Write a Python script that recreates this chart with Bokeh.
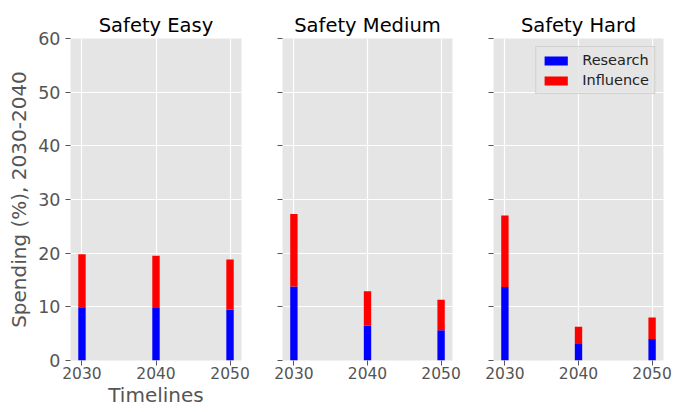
from bokeh.plotting import figure
from bokeh.layouts import row
from bokeh.models import FixedTicker, Range1d, Legend
from bokeh.embed import file_html
from bokeh.resources import INLINE

# data
years = [2030, 2040, 2050]
scenarios = ["Safety Easy", "Safety Medium", "Safety Hard"]
research = {
    "Safety Easy": [9.9, 9.8, 9.45],
    "Safety Medium": [13.8, 6.5, 5.65],
    "Safety Hard": [13.7, 3.2, 4.0],
}
influence = {
    "Safety Easy": [9.9, 9.7, 9.35],
    "Safety Medium": [13.5, 6.4, 5.65],
    "Safety Hard": [13.3, 3.1, 4.0],
}
y_ticks = [0, 10, 20, 30, 40, 50, 60]

FONT = "DejaVu Sans"
BG = "#E5E5E5"
TXT = "#555555"


def make_panel(name, left, right, frame_w, first=False, legend=False):
    p = figure(
        title=name,
        frame_width=frame_w, frame_height=322,
        min_border_left=left, min_border_right=right,
        min_border_top=38, min_border_bottom=52,
        x_range=Range1d(2028.45, 2051.55), y_range=Range1d(0, 60),
        output_backend="svg", toolbar_location=None,
        background_fill_color=BG, border_fill_color="white",
    )
    p.outline_line_color = None
    p.title.align = "center"
    p.title.text_font = FONT
    p.title.text_font_size = "19.5px"
    p.title.text_font_style = "normal"
    p.title.text_color = "black"
    p.title.standoff = 4

    p.grid.grid_line_color = "white"
    p.grid.grid_line_width = 1.2

    p.xaxis.ticker = FixedTicker(ticks=years)
    p.yaxis.ticker = FixedTicker(ticks=y_ticks)
    for ax in (p.xaxis, p.yaxis):
        ax.axis_line_color = None
        ax.major_tick_line_color = TXT
        ax.major_tick_out = 5
        ax.major_tick_in = 0
        ax.minor_tick_line_color = None
        ax.major_label_text_font = FONT
        ax.major_label_text_color = TXT
        ax.axis_label_text_font = FONT
        ax.axis_label_text_color = TXT
        ax.axis_label_text_font_size = "20px"
        ax.axis_label_text_font_style = "normal"
    p.xaxis.major_label_text_font_size = "15.5px"
    p.xaxis.major_label_standoff = 1
    p.yaxis.major_label_text_font_size = "17.5px"
    p.yaxis.major_label_standoff = 5

    if first:
        p.yaxis.axis_label = "Spending (%), 2030-2040"
        p.yaxis.axis_label_standoff = 4
        p.xaxis.axis_label = "Timelines"
        p.xaxis.axis_label_standoff = 1
    else:
        p.yaxis.major_label_overrides = {t: "" for t in y_ticks}

    r = research[name]
    inf = influence[name]
    top = [a + b for a, b in zip(r, inf)]
    rb = p.vbar(x=years, width=1, bottom=0, top=r, fill_color="blue", line_color=None)
    ib = p.vbar(x=years, width=1, bottom=r, top=top, fill_color="red", line_color=None)

    if legend:
        leg = Legend(items=[("Research", [rb]), ("Influence", [ib])], location="top_right")
        leg.margin = 8
        leg.padding = 5
        leg.spacing = 4
        leg.glyph_width = 29
        leg.glyph_height = 11
        leg.label_height = 16
        leg.label_standoff = 12
        leg.label_text_font = FONT
        leg.label_text_font_size = "14.5px"
        leg.label_text_color = "#222222"
        leg.background_fill_color = BG
        leg.background_fill_alpha = 0.8
        leg.border_line_color = "#CCCCCC"
        leg.border_line_alpha = 0.8
        p.add_layout(leg)
    return p


p1 = make_panel("Safety Easy", 70, 10, 171, first=True)
p2 = make_panel("Safety Medium", 31, 10, 170)
p3 = make_panel("Safety Hard", 31, 15, 170, legend=True)

layout = row(p1, p2, p3)
open("out.html", "w").write(file_html(layout, INLINE))
